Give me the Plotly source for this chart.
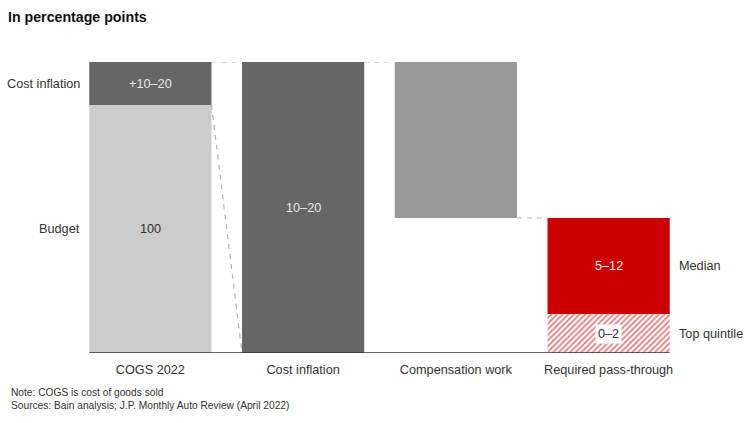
import plotly.graph_objects as go

# Categories along the x axis
categories = ["COGS 2022", "Cost inflation", "Compensation work", "Required pass-through"]

# Schematic stacked segments (drawn heights on a 0-100 scale)
segment_cat = [0, 0, 1, 2, 3, 3]
segment_base = [0, 85.2, 0, 46.4, 13.4, 0]
segment_height = [85.2, 14.8, 100, 53.6, 33.0, 13.4]
segment_label = ["100", "+10–20", "10–20", "", "5–12", "0–2"]
segment_color = ["#cccccc", "#666666", "#666666", "#999999", "#cc0000", "#ffffff"]
label_color = ["#333333", "#e6e6e6", "#e6e6e6", "#ffffff", "#f2f2f2", "#333333"]

# Row labels on the left and right of the chart
left_labels = ["Cost inflation", "Budget"]
left_label_y = [92.6, 42.6]
right_labels = ["Median", "Top quintile"]
right_label_y = [29.9, 6.7]

W, H = 745, 423
ML, MR, MT, MB = 73.5, 59.5, 62, 70
PW, PH = W - ML - MR, H - MT - MB
FS = 12.7

fig = go.Figure()
for i in range(len(segment_cat)):
    hatched = i == 5
    fig.add_trace(go.Bar(
        x=[segment_cat[i]],
        y=[segment_height[i]],
        base=[segment_base[i]],
        width=0.8,
        marker=dict(
            color=segment_color[i],
            line=dict(width=0),
            pattern=dict(shape="/", fgcolor="#e57373", bgcolor="#ffffff",
                         size=4, solidity=0.4, fillmode="replace") if hatched else None,
        ),
        showlegend=False,
        hoverinfo="skip",
    ))

annotations = []
for i in range(len(segment_cat)):
    if not segment_label[i]:
        continue
    hatched = i == 5
    annotations.append(dict(
        x=segment_cat[i], y=segment_base[i] + segment_height[i] / 2,
        xref="x", yref="y", text=segment_label[i], showarrow=False,
        font=dict(size=FS, color=label_color[i]),
        bgcolor="#ffffff" if hatched else None, borderpad=2,
    ))

for t, yv in zip(left_labels, left_label_y):
    annotations.append(dict(x=-0.445, y=yv, xref="x", yref="y", text=t,
                            showarrow=False, xanchor="right",
                            font=dict(size=FS, color="#333333")))
for t, yv in zip(right_labels, right_label_y):
    annotations.append(dict(x=3.45, y=yv, xref="x", yref="y", text=t,
                            showarrow=False, xanchor="left",
                            font=dict(size=FS, color="#333333")))

# Footnotes
notes = ["Note: COGS is cost of goods sold",
         "Sources: Bain analysis; J.P. Monthly Auto Review (April 2022)"]
for k, t in enumerate(notes):
    annotations.append(dict(x=(8 - ML) / PW, y=(MT + PH - (392 + 13 * k)) / PH,
                            xref="paper", yref="paper", text=t, showarrow=False,
                            xanchor="left", yanchor="middle",
                            font=dict(size=10.2, color="#333333")))

# Connector lines between the bars
half = 0.4
shapes = []
connectors = [
    (0 + half, 100, 1 - half, 100),
    (1 + half, 100, 2 - half, 100),
    (2 + half, 46.4, 3 - half, 46.4),
    (0 + half, 85.2, 1 - half, 0),
]
for x0, y0, x1, y1 in connectors:
    shapes.append(dict(type="line", xref="x", yref="y", x0=x0, y0=y0, x1=x1, y1=y1,
                       line=dict(color="#b3b3b3", width=1.2, dash="5px,5px")))
# Baseline
shapes.append(dict(type="line", xref="x", yref="y", x0=-half, y0=0, x1=3 + half, y1=0,
                   line=dict(color="#333333", width=1.5)))

fig.update_layout(
    width=W, height=H,
    margin=dict(l=ML, r=MR, t=MT, b=MB),
    paper_bgcolor="#ffffff", plot_bgcolor="#ffffff",
    font=dict(family="Liberation Sans, Arial, sans-serif", color="#333333"),
    barmode="overlay",
    title=dict(text="<b>In percentage points</b>", xref="container", yref="container",
               x=8 / W, y=1 - 17 / H, xanchor="left", yanchor="middle",
               font=dict(size=14.2, color="#111111")),
    xaxis=dict(range=[-0.5, 3.5], tickmode="array", tickvals=list(range(4)),
               ticktext=categories, showgrid=False, zeroline=False, showline=False,
               ticks="", ticklabelstandoff=7,
               tickfont=dict(size=FS, color="#333333"), fixedrange=True),
    yaxis=dict(range=[0, 100], visible=False, fixedrange=True),
    annotations=annotations,
    shapes=shapes,
)

fig.write_html("out.html")
